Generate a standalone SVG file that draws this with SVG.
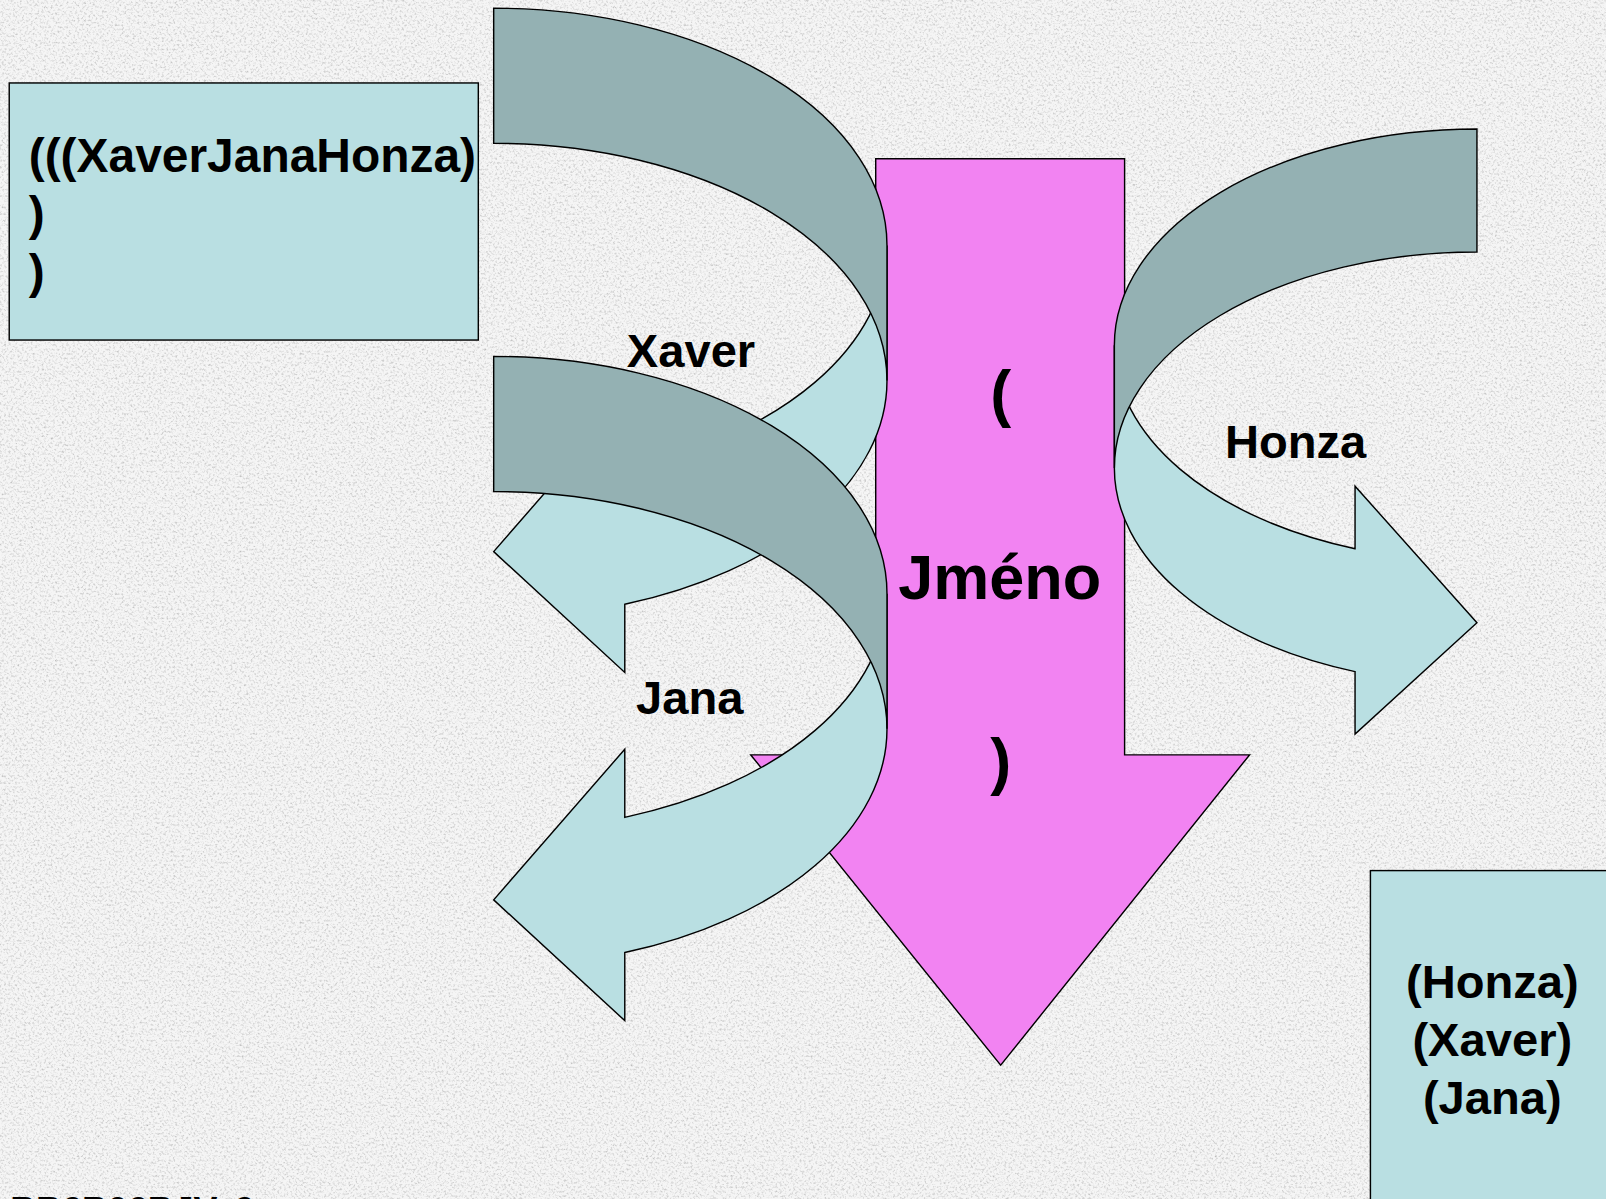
<svg xmlns="http://www.w3.org/2000/svg" width="1606" height="1199" viewBox="0 0 1606 1199">
<style>
  .t{font-family:"Liberation Sans",Arial,sans-serif;font-weight:bold;fill:#000}
  .box{fill:#B9DFE2;stroke:#000;stroke-width:1.4}
  .lite{fill:#B9DFE2;stroke:#000;stroke-width:1.4;stroke-linejoin:miter}
  .dark{fill:#94B1B3;stroke:#000;stroke-width:1.4}
  .pink{fill:#F283F2;stroke:#000;stroke-width:1.4}
</style>
<defs>
  <filter id="noise" x="0" y="0" width="100%" height="100%">
    <feTurbulence type="fractalNoise" baseFrequency="0.45" numOctaves="3" seed="7"/>
    <feColorMatrix type="matrix" values="1.5 0 0 0 0.2  1.5 0 0 0 0.2  1.5 0 0 0 0.2  0 0 0 0 0.55"/>
  </filter>
</defs>
<rect width="1606" height="1199" fill="#E8E8E8"/>
<rect width="1606" height="1199" filter="url(#noise)"/>
<g transform="scale(1.02423)">
  <g id="source-box">
    <rect class="box" x="9" y="81" width="458" height="251"/>
    <text class="t" font-size="46.8" x="28" y="168">(((XaverJanaHonza)</text>
    <text class="t" font-size="46.8" x="28" y="225">)</text>
    <text class="t" font-size="46.8" x="28" y="281">)</text>
  </g>
  <g id="jmeno-arrow">
    <path class="pink" d="M855 155 H1098 V737 H1220 L977 1040 L733 737 H855 Z"/>
    <text class="t" font-size="61.5" x="977" y="405" text-anchor="middle">(</text>
    <text class="t" font-size="61.5" x="976" y="585" text-anchor="middle">Jméno</text>
    <text class="t" font-size="61.5" x="977" y="764" text-anchor="middle">)</text>
  </g>
  <g id="connectors">
    <g id="xaver-arrow">
      <path class="lite" d="M866 239.6 A384 231.6 0 0 1 610 458 L610 391.5 L482 538.6 L610 656.5 L610 590 A384 231.6 0 0 0 866 371.6 Z"/>
      <path class="dark" d="M482 8 A384 231.6 0 0 1 866 239.6 L866 371.6 A384 231.6 0 0 0 482 140 Z"/>
    </g>
    <g id="jana-arrow">
      <path class="lite" d="M866 579.6 A384 231.6 0 0 1 610 798 L610 731.5 L482 878.6 L610 996.5 L610 930 A384 231.6 0 0 0 866 711.6 Z"/>
      <path class="dark" d="M482 348 A384 231.6 0 0 1 866 579.6 L866 711.6 A384 231.6 0 0 0 482 480 Z"/>
    </g>
    <g id="honza-arrow">
      <path class="lite" d="M1088 337 A354 211 0 0 0 1323 535.7 L1323 474.7 L1442 608 L1323 716.7 L1323 655.7 A354 211 0 0 1 1088 457 Z"/>
      <path class="dark" d="M1442 126 A354 211 0 0 0 1088 337 L1088 457 A354 211 0 0 1 1442 246 Z"/>
    </g>
    <text class="t" font-size="46" x="612" y="358">Xaver</text>
    <text class="t" font-size="46" x="621" y="697">Jana</text>
    <text class="t" font-size="46" x="1196" y="447">Honza</text>
  </g>
  <g id="result-box">
    <rect class="box" x="1338" y="850" width="300" height="400"/>
    <text class="t" font-size="46" x="1457" y="974" text-anchor="middle">(Honza)</text>
    <text class="t" font-size="46" x="1457" y="1031" text-anchor="middle">(Xaver)</text>
    <text class="t" font-size="46" x="1457" y="1088" text-anchor="middle">(Jana)</text>
  </g>
  <g id="footer">
    <text class="t" font-size="35" x="10" y="1192">BB6B06BJV. 6</text>
  </g>
</g>
</svg>
